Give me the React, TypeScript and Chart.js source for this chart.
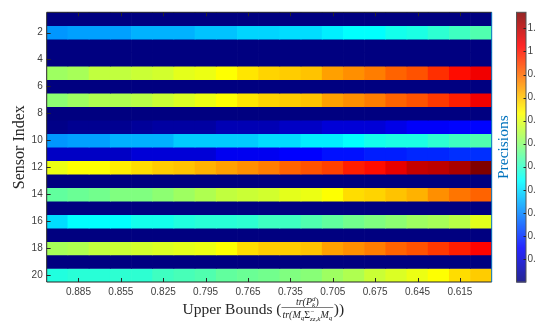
import React, { useEffect, useRef } from 'react';
import { Chart, registerables } from 'chart.js';

Chart.register(...registerables);

// Upper-bound ratio per column (x axis, left to right)
const upperBounds = ['0.9', '0.885', '0.87', '0.855', '0.84', '0.825', '0.81', '0.795', '0.78', '0.765', '0.75',
  '0.735', '0.72', '0.705', '0.69', '0.675', '0.66', '0.645', '0.63', '0.615', '0.6'];
const shownXTickIdx = [1, 3, 5, 7, 9, 11, 13, 15, 17, 19];
const sensorTicks = [2, 4, 6, 8, 10, 12, 14, 16, 18, 20];
const colorbarTicks = [0.1, 0.2, 0.3, 0.4, 0.5, 0.6, 0.7, 0.8, 0.9, 1, 1.1];
const colorMin = 0;
const colorMax = 1.17;

// Precision of each sensor per column
const sensor01 = [0, 0, 0, 0, 0, 0, 0, 0, 0, 0, 0, 0, 0, 0, 0, 0, 0, 0, 0, 0, 0];
const sensor02 = [0.32, 0.33, 0.33, 0.33, 0.35, 0.35, 0.35, 0.37, 0.37, 0.39, 0.39, 0.40, 0.40, 0.42, 0.44, 0.44, 0.46, 0.47, 0.49, 0.51, 0.53];
const sensor03 = [0, 0, 0, 0, 0, 0, 0, 0, 0, 0, 0, 0, 0, 0, 0, 0, 0, 0, 0, 0, 0];
const sensor04 = [0, 0, 0, 0, 0, 0, 0, 0, 0, 0, 0, 0, 0, 0, 0, 0, 0, 0, 0, 0, 0];
const sensor05 = [0.62, 0.63, 0.66, 0.66, 0.67, 0.68, 0.70, 0.71, 0.73, 0.76, 0.78, 0.79, 0.80, 0.84, 0.86, 0.88, 0.91, 0.93, 0.97, 1.01, 1.04];
const sensor06 = [0, 0, 0, 0, 0, 0, 0, 0, 0, 0, 0, 0, 0, 0, 0, 0, 0, 0, 0, 0, 0];
const sensor07 = [0.60, 0.62, 0.64, 0.64, 0.65, 0.67, 0.69, 0.71, 0.73, 0.76, 0.78, 0.79, 0.80, 0.84, 0.86, 0.88, 0.91, 0.93, 0.96, 0.99, 1.04];
const sensor08 = [0, 0, 0, 0, 0, 0, 0, 0, 0, 0, 0, 0, 0, 0, 0, 0, 0, 0, 0, 0, 0];
const sensor09 = [0.01, 0.02, 0.02, 0.02, 0.03, 0.04, 0.04, 0.04, 0.06, 0.06, 0.06, 0.08, 0.08, 0.10, 0.10, 0.10, 0.12, 0.14, 0.14, 0.15, 0.15];
const sensor10 = [0.32, 0.33, 0.33, 0.35, 0.35, 0.35, 0.38, 0.38, 0.38, 0.38, 0.40, 0.40, 0.42, 0.42, 0.44, 0.46, 0.47, 0.47, 0.49, 0.51, 0.53];
const sensor11 = [0.08, 0.08, 0.08, 0.08, 0.10, 0.10, 0.10, 0.10, 0.13, 0.13, 0.13, 0.146, 0.146, 0.165, 0.165, 0.18, 0.18, 0.19, 0.19, 0.20, 0.20];
const sensor12 = [0.71, 0.73, 0.73, 0.75, 0.77, 0.79, 0.80, 0.82, 0.84, 0.86, 0.88, 0.91, 0.93, 0.95, 0.99, 1.01, 1.05, 1.09, 1.10, 1.12, 1.17];
const sensor13 = [0, 0, 0, 0, 0, 0, 0, 0, 0, 0, 0, 0, 0, 0, 0, 0, 0, 0, 0, 0, 0];
const sensor14 = [0.55, 0.56, 0.57, 0.585, 0.585, 0.60, 0.62, 0.64, 0.66, 0.67, 0.68, 0.70, 0.71, 0.73, 0.77, 0.78, 0.80, 0.82, 0.86, 0.89, 0.91];
const sensor15 = [0, 0, 0, 0, 0, 0, 0, 0, 0, 0, 0, 0, 0, 0, 0, 0, 0, 0, 0, 0, 0];
const sensor16 = [0.40, 0.44, 0.44, 0.44, 0.46, 0.46, 0.475, 0.485, 0.485, 0.49, 0.51, 0.51, 0.53, 0.55, 0.57, 0.585, 0.60, 0.62, 0.63, 0.65, 0.70];
const sensor17 = [0, 0, 0, 0, 0, 0, 0, 0, 0, 0, 0, 0, 0, 0, 0, 0, 0, 0, 0, 0, 0];
const sensor18 = [0.63, 0.64, 0.66, 0.67, 0.68, 0.69, 0.70, 0.71, 0.73, 0.77, 0.79, 0.79, 0.80, 0.84, 0.86, 0.88, 0.91, 0.93, 0.96, 0.99, 1.02];
const sensor19 = [0, 0, 0, 0, 0, 0, 0, 0, 0, 0, 0, 0, 0, 0, 0, 0, 0, 0, 0, 0, 0];
const sensor20 = [0.475, 0.485, 0.485, 0.49, 0.49, 0.51, 0.52, 0.53, 0.55, 0.56, 0.57, 0.585, 0.595, 0.62, 0.64, 0.67, 0.69, 0.71, 0.73, 0.77, 0.79];

const sensorRows = [sensor01, sensor02, sensor03, sensor04, sensor05, sensor06, sensor07, sensor08, sensor09, sensor10,
  sensor11, sensor12, sensor13, sensor14, sensor15, sensor16, sensor17, sensor18, sensor19, sensor20];

const clamp01 = (v: number) => Math.max(0, Math.min(1, v));
function jet(t: number): string {
  t = clamp01(t);
  const r = clamp01(1.5 - Math.abs(4 * t - 3));
  const g = clamp01(1.5 - Math.abs(4 * t - 2));
  const b = clamp01(1.5 - Math.abs(4 * t - 1));
  return `rgb(${Math.round(r * 255)},${Math.round(g * 255)},${Math.round(b * 255)})`;
}
const valueColor = (v: number) => jet((v - colorMin) / (colorMax - colorMin));

const AXIS_DARK = '#262626';
const LABEL_GRAY = '#404040';
const MATLAB_BLUE = '#0072BD';
const SANS = '"Liberation Sans", Arial, sans-serif';
const SERIF = '"Liberation Serif", "Times New Roman", serif';

const decorPlugin = {
  id: 'decor',
  afterDatasetsDraw(chart: any) {
    const { ctx, chartArea: a, scales } = chart;
    const xs = scales.x;
    const ys = scales.y;
    ctx.save();
    ctx.strokeStyle = AXIS_DARK;
    ctx.lineWidth = 1;
    ctx.beginPath();
    shownXTickIdx.forEach((i) => {
      const px = Math.round(xs.getPixelForValue(i)) + 0.5;
      ctx.moveTo(px, a.bottom);
      ctx.lineTo(px, a.bottom - 4);
      ctx.moveTo(px, a.top);
      ctx.lineTo(px, a.top + 4);
    });
    sensorTicks.forEach((v) => {
      const py = Math.round(ys.getPixelForValue(v)) + 0.5;
      ctx.moveTo(a.left, py);
      ctx.lineTo(a.left + 4, py);
    });
    ctx.stroke();
    ctx.beginPath();
    ctx.moveTo(a.left, a.bottom);
    ctx.lineTo(a.left, a.top);
    ctx.lineTo(a.right, a.top);
    ctx.moveTo(a.left, a.bottom);
    ctx.lineTo(a.right, a.bottom);
    ctx.stroke();
    ctx.strokeStyle = MATLAB_BLUE;
    ctx.beginPath();
    ctx.moveTo(a.right, a.top);
    ctx.lineTo(a.right, a.bottom);
    ctx.stroke();
    ctx.restore();
  },
  afterDraw(chart: any) {
    const { ctx, chartArea: a } = chart;
    ctx.save();

    // ---- colorbar ----
    const cbL = 516.5, cbR = 526, cbT = a.top, cbB = a.bottom;
    const h = cbB - cbT;
    for (let y = 0; y < h; y += 1) {
      const v = colorMax - ((y + 0.5) / h) * (colorMax - colorMin);
      ctx.fillStyle = valueColor(v);
      ctx.fillRect(cbL, cbT + y, cbR - cbL, 1.2);
    }
    ctx.strokeStyle = '#555555';
    ctx.lineWidth = 1;
    ctx.strokeRect(cbL, cbT, cbR - cbL, h);
    const vToY = (v: number) => cbB - ((v - colorMin) / (colorMax - colorMin)) * h;
    ctx.strokeStyle = AXIS_DARK;
    ctx.beginPath();
    colorbarTicks.forEach((v) => {
      const y = Math.round(vToY(v)) + 0.5;
      ctx.moveTo(cbR, y);
      ctx.lineTo(cbR - 2.5, y);
    });
    ctx.stroke();
    ctx.fillStyle = LABEL_GRAY;
    ctx.font = `10px ${SANS}`;
    ctx.textAlign = 'left';
    ctx.textBaseline = 'middle';
    colorbarTicks.forEach((v) => {
      ctx.fillText(String(v), 527.5, vToY(v));
    });

    // ---- "Precisions" label ----
    ctx.save();
    ctx.translate(504, (a.top + a.bottom) / 2);
    ctx.rotate(-Math.PI / 2);
    ctx.fillStyle = MATLAB_BLUE;
    ctx.font = `15.5px ${SERIF}`;
    ctx.textAlign = 'center';
    ctx.textBaseline = 'middle';
    ctx.fillText('Precisions', 0, 0);
    ctx.restore();

    // ---- y title ----
    ctx.save();
    ctx.translate(20, (a.top + a.bottom) / 2);
    ctx.rotate(-Math.PI / 2);
    ctx.fillStyle = AXIS_DARK;
    ctx.font = `16px ${SERIF}`;
    ctx.textAlign = 'center';
    ctx.textBaseline = 'middle';
    ctx.fillText('Sensor Index', 0, 0);
    ctx.restore();

    // ---- x title with fraction ----
    const mainFont = `15.5px ${SERIF}`;
    const fracFont = `italic 10px ${SERIF}`;
    const upFont = `10px ${SERIF}`;
    const scriptFont = `italic 7px ${SERIF}`;
    type Part = { t: string; f: string; dy?: number; stack?: { t: string; f: string; dy: number } };
    const measure = (parts: Part[]) => parts.reduce((w, p) => {
      ctx.font = p.f;
      let pw = ctx.measureText(p.t).width;
      if (p.stack) {
        ctx.font = p.stack.f;
        pw = Math.max(pw, ctx.measureText(p.stack.t).width);
      }
      return w + pw;
    }, 0);
    const drawParts = (parts: Part[], x: number, base: number) => {
      let cx = x;
      parts.forEach((p) => {
        ctx.font = p.f;
        let pw = ctx.measureText(p.t).width;
        ctx.fillText(p.t, cx, base + (p.dy || 0));
        if (p.stack) {
          ctx.font = p.stack.f;
          ctx.fillText(p.stack.t, cx, base + p.stack.dy);
          pw = Math.max(pw, ctx.measureText(p.stack.t).width);
        }
        cx += pw;
      });
    };
    const numerator: Part[] = [
      { t: 'tr(P', f: fracFont },
      { t: 'd', f: scriptFont, dy: -4, stack: { t: 'k', f: scriptFont, dy: 2.5 } },
      { t: ')', f: upFont },
    ];
    const denominator: Part[] = [
      { t: 'tr(M', f: fracFont },
      { t: 'q', f: scriptFont, dy: 2 },
      { t: 'Σ', f: upFont },
      { t: '−', f: scriptFont, dy: -4, stack: { t: 'zz,k', f: scriptFont, dy: 2.5 } },
      { t: 'M', f: fracFont },
      { t: 'q', f: scriptFont, dy: 2 },
    ];
    const lead = 'Upper Bounds (';
    const tail = '))';
    ctx.font = mainFont;
    const leadW = ctx.measureText(lead).width;
    const tailW = ctx.measureText(tail).width;
    const numW = measure(numerator);
    const denW = measure(denominator);
    const fracW = Math.max(numW, denW) + 2;
    const total = leadW + fracW + tailW;
    const startX = 263 - total / 2;
    const baseMain = 313.5;
    ctx.fillStyle = AXIS_DARK;
    ctx.textAlign = 'left';
    ctx.textBaseline = 'alphabetic';
    ctx.font = mainFont;
    ctx.fillText(lead, startX, baseMain);
    const fx = startX + leadW;
    drawParts(numerator, fx + (fracW - numW) / 2, 304.5);
    drawParts(denominator, fx + (fracW - denW) / 2, 318);
    ctx.strokeStyle = AXIS_DARK;
    ctx.lineWidth = 0.6;
    ctx.beginPath();
    ctx.moveTo(fx, 307.5);
    ctx.lineTo(fx + fracW, 307.5);
    ctx.stroke();
    ctx.font = mainFont;
    ctx.fillText(tail, fx + fracW + 0.5, baseMain);

    ctx.restore();
  },
};

export default function App() {
  const canvasRef = useRef<HTMLCanvasElement | null>(null);

  useEffect(() => {
    document.body.style.margin = '0';
    const canvas = canvasRef.current;
    if (!canvas) return;
    const datasets = sensorRows.map((row, r) => ({
      label: `Sensor ${r + 1}`,
      data: row.map(() => [r + 0.5, r + 1.5]),
      backgroundColor: row.map((v) => valueColor(v)),
      borderWidth: 0,
      grouped: false,
      barPercentage: 1,
      categoryPercentage: 1,
    }));
    const chart = new Chart(canvas, {
      type: 'bar',
      data: { labels: upperBounds, datasets: datasets as any },
      plugins: [decorPlugin],
      options: {
        animation: false,
        responsive: false,
        devicePixelRatio: 1,
        layout: { padding: { top: 12.3, right: 44.3, left: 0, bottom: 0 } },
        plugins: { legend: { display: false }, tooltip: { enabled: false }, title: { display: false } },
        scales: {
          x: {
            type: 'category',
            grid: { display: false, drawTicks: false },
            border: { display: false },
            ticks: {
              autoSkip: false,
              maxRotation: 0,
              minRotation: 0,
              padding: 4,
              color: LABEL_GRAY,
              font: { family: SANS, size: 10 },
              callback: (_v: any, idx: number) => (shownXTickIdx.includes(idx) ? upperBounds[idx] : ''),
            },
            afterFit: (s: any) => { s.height = 41; },
          },
          y: {
            type: 'linear',
            min: 0.5,
            max: 20.5,
            reverse: true,
            grid: { display: false, drawTicks: false },
            border: { display: false },
            ticks: {
              padding: 4,
              color: LABEL_GRAY,
              font: { family: SANS, size: 10 },
              callback: (v: any) => String(v),
            },
            afterBuildTicks: (s: any) => { s.ticks = sensorTicks.map((v) => ({ value: v })); },
            afterFit: (s: any) => { s.width = 46.7; },
          },
        },
      } as any,
    });
    return () => chart.destroy();
  }, []);

  return (
    <div style={{ width: 536, height: 323, background: '#ffffff' }}>
      <canvas ref={canvasRef} width={536} height={323} style={{ display: 'block' }} />
    </div>
  );
}
